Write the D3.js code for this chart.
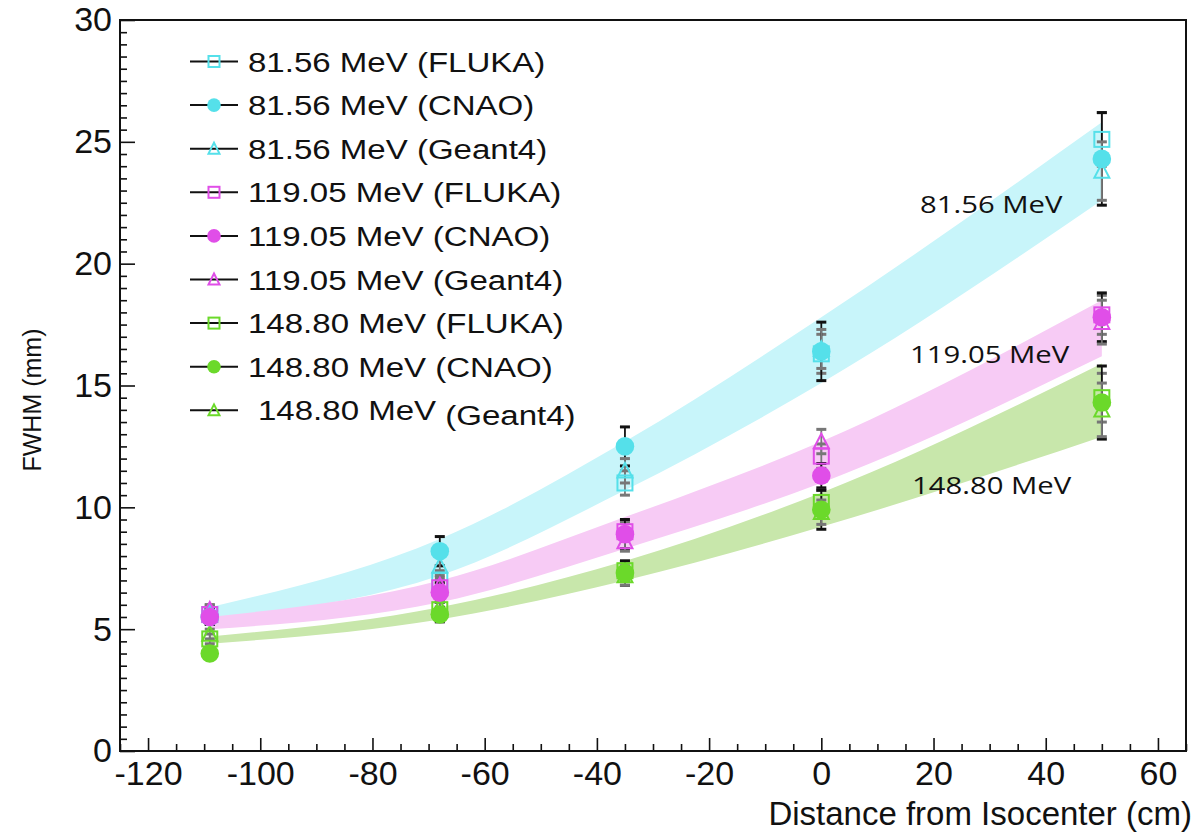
<!DOCTYPE html>
<html><head><meta charset="utf-8">
<script src="https://cdn.jsdelivr.net/npm/d3@7"></script>
<style>body{margin:0;background:#fff}svg{display:block}</style>
</head><body>
<svg id="c" width="1203" height="835"></svg>
<script>
// ---- data ----
const distances = [-109, -68, -35, 0, 50];
const xTicks = [-120, -100, -80, -60, -40, -20, 0, 20, 40, 60];
const yTicks = [0, 5, 10, 15, 20, 25, 30];
const energies = ["81.56 MeV", "119.05 MeV", "148.80 MeV"];
const sources = ["FLUKA", "CNAO", "Geant4"];

const fluka81 = [5.6, 7.0, 11.0, 16.3, 25.1];
const cnao81 = [5.5, 8.2, 12.5, 16.4, 24.3];
const geant81 = [5.7, 7.6, 11.5, 16.5, 23.8];
const errFluka81 = [0.3, 0.4, 0.5, 0.8, 1.1];
const errCnao81 = [0.3, 0.6, 0.8, 1.2, 1.9];
const errGeant81 = [0.3, 0.4, 0.5, 0.8, 1.2];

const fluka119 = [5.6, 6.7, 9.0, 12.1, 17.9];
const cnao119 = [5.5, 6.5, 8.9, 11.3, 17.8];
const geant119 = [5.8, 6.8, 8.6, 12.7, 17.6];
const errFluka119 = [0.2, 0.3, 0.4, 0.5, 0.8];
const errCnao119 = [0.3, 0.4, 0.6, 0.5, 1.0];
const errGeant119 = [0.2, 0.3, 0.4, 0.5, 0.9];

const fluka148 = [4.6, 5.8, 7.4, 10.2, 14.5];
const cnao148 = [4.0, 5.6, 7.3, 9.9, 14.3];
const geant148 = [4.8, 5.9, 7.2, 9.8, 14.0];
const errFluka148 = [0.2, 0.3, 0.4, 0.5, 1.0];
const errCnao148 = [0.2, 0.3, 0.5, 0.8, 1.5];
const errGeant148 = [0.2, 0.3, 0.4, 0.5, 1.1];

const bandLow81 = [5.4, 7.2, 10.7, 15.1, 22.6];
const bandHigh81 = [5.9, 8.7, 12.7, 17.8, 25.8];
const bandLow119 = [5.0, 6.1, 8.3, 11.0, 16.2];
const bandHigh119 = [5.5, 7.0, 9.6, 12.7, 18.5];
const bandLow148 = [4.4, 5.4, 7.0, 9.2, 12.9];
const bandHigh148 = [4.7, 5.9, 7.8, 10.6, 15.9];

// ---- styles ----
const markerColors = ["#55e0ea", "#e04ee8", "#6bd92a"];
const bandColors = ["#c8f5fa", "#f7cbf5", "#c8e7ab"];

const svg = d3.select("#c");
const L = 120, R = 1186, T = 20, B = 751;
const x = d3.scaleLinear().domain([-125, 65]).range([L, R]);
const y = d3.scaleLinear().domain([0, 30]).range([B, T]);

// bands
const bands = [[bandLow81, bandHigh81], [bandLow119, bandHigh119], [bandLow148, bandHigh148]];
const area = d3.area().curve(d3.curveMonotoneX)
  .x(d => x(d.x)).y0(d => y(d.lo)).y1(d => y(d.hi));
bands.forEach((b, i) => {
  const pts = distances.map((dx, j) => ({x: dx, lo: b[0][j], hi: b[1][j]}));
  svg.append("path").datum(pts).attr("d", area).attr("fill", bandColors[i]);
});

// band labels
const bandLabelPos = [[920, 213], [910, 363], [912, 494]];
energies.forEach((e, i) => {
  svg.append("text").attr("transform", `translate(${bandLabelPos[i][0]},${bandLabelPos[i][1]}) scale(1.22,1)`)
    .attr("font-family", "Open Sans").attr("font-size", 24).attr("fill", "#111").text(e);
});

// series
const series = [
  {e: 0, s: 0, v: fluka81, err: errFluka81}, {e: 0, s: 1, v: cnao81, err: errCnao81}, {e: 0, s: 2, v: geant81, err: errGeant81},
  {e: 1, s: 0, v: fluka119, err: errFluka119}, {e: 1, s: 1, v: cnao119, err: errCnao119}, {e: 1, s: 2, v: geant119, err: errGeant119},
  {e: 2, s: 0, v: fluka148, err: errFluka148}, {e: 2, s: 1, v: cnao148, err: errCnao148}, {e: 2, s: 2, v: geant148, err: errGeant148}
];

function marker(g, s, col, cx, cy, size) {
  if (s === 1) {
    g.append("circle").attr("cx", cx).attr("cy", cy).attr("r", size * 0.62).attr("fill", col);
  } else if (s === 0) {
    g.append("rect").attr("x", cx - size / 2).attr("y", cy - size / 2).attr("width", size).attr("height", size)
      .attr("fill", "none").attr("stroke", col).attr("stroke-width", 2);
  } else {
    const h = size * 0.9;
    g.append("path").attr("d", `M${cx},${cy - h / 2 - 1}L${cx + size / 2},${cy + h / 2}L${cx - size / 2},${cy + h / 2}Z`)
      .attr("fill", "none").attr("stroke", col).attr("stroke-width", 2);
  }
}

const gPts = svg.append("g");
series.forEach(se => {
  se.v.forEach((val, j) => {
    const cx = x(distances[j]);
    const col = se.s === 1 ? "#111" : "#777";
    const y1 = y(val - se.err[j]), y2 = y(val + se.err[j]);
    gPts.append("line").attr("x1", cx).attr("x2", cx).attr("y1", y1).attr("y2", y2).attr("stroke", col).attr("stroke-width", 1.8);
    [y1, y2].forEach(yy => gPts.append("line").attr("x1", cx - 5).attr("x2", cx + 5).attr("y1", yy).attr("y2", yy)
      .attr("stroke", col).attr("stroke-width", 3));
  });
});
[0, 2, 1].forEach(sIdx => {
  series.filter(se => se.s === sIdx).forEach(se => {
    se.v.forEach((val, j) => marker(gPts, se.s, markerColors[se.e], x(distances[j]), y(val), 15));
  });
});

// axes
const xMinor = d3.range(-125, 66, 5).filter(v => v % 20 !== 0);
const yMinor = d3.range(0, 30.01, 0.5).filter(v => v % 5 !== 0);
const axX = svg.append("g").attr("transform", `translate(0,${B})`)
  .call(d3.axisBottom(x).tickValues(xTicks).tickSize(-13).tickPadding(10).tickFormat(d3.format("d")));
svg.append("g").attr("transform", `translate(0,${B})`)
  .call(d3.axisBottom(x).tickValues(xMinor).tickSize(-7).tickFormat(""));
const axY = svg.append("g").attr("transform", `translate(${L},0)`)
  .call(d3.axisLeft(y).tickValues(yTicks).tickSize(-15).tickPadding(8).tickFormat(d3.format("d")));
svg.append("g").attr("transform", `translate(${L},0)`)
  .call(d3.axisLeft(y).tickValues(yMinor).tickSize(-7).tickFormat(""));
svg.selectAll(".domain").remove();
svg.selectAll(".tick line").attr("stroke", "#111").attr("stroke-width", 1.6);
svg.selectAll(".tick text").attr("font-family", "Liberation Sans, Arial").attr("font-size", 34).attr("fill", "#111");
axX.selectAll(".tick text").text(d => d < 0 ? "-" + Math.abs(d) : d);
svg.append("rect").attr("x", L).attr("y", T).attr("width", R - L).attr("height", B - T)
  .attr("fill", "none").attr("stroke", "#111").attr("stroke-width", 2);

// axis titles
svg.append("text").attr("x", 1192).attr("y", 825).attr("text-anchor", "end")
  .attr("font-family", "Liberation Sans, Arial").attr("font-size", 33).attr("fill", "#111")
  .text("Distance from Isocenter (cm)");
svg.append("text").attr("transform", "translate(41,400) rotate(-90)").attr("text-anchor", "middle")
  .attr("font-family", "Liberation Sans, Arial").attr("font-size", 25).attr("fill", "#111")
  .text("FWHM (mm)");

// legend
const lg = svg.append("g");
series.forEach((se, k) => {
  const cy = 61.5 + k * 43.6;
  lg.append("line").attr("x1", 190).attr("x2", 238).attr("y1", cy).attr("y2", cy).attr("stroke", "#111").attr("stroke-width", 2);
  marker(lg, se.s, markerColors[se.e], 214, cy, 11);
  const tx = k === 8 ? 258 : 248;
  const txt = lg.append("text").attr("transform", `translate(${tx},${cy + 10}) scale(1.18,1)`)
    .attr("font-family", "Liberation Sans, Arial").attr("font-size", 28).attr("fill", "#111");
  if (k === 8) {
    txt.append("tspan").text(energies[se.e] + " ");
    txt.append("tspan").attr("dy", 5).text("(" + sources[se.s] + ")");
  } else {
    txt.text(energies[se.e] + " (" + sources[se.s] + ")");
  }
});
</script>
</body></html>
